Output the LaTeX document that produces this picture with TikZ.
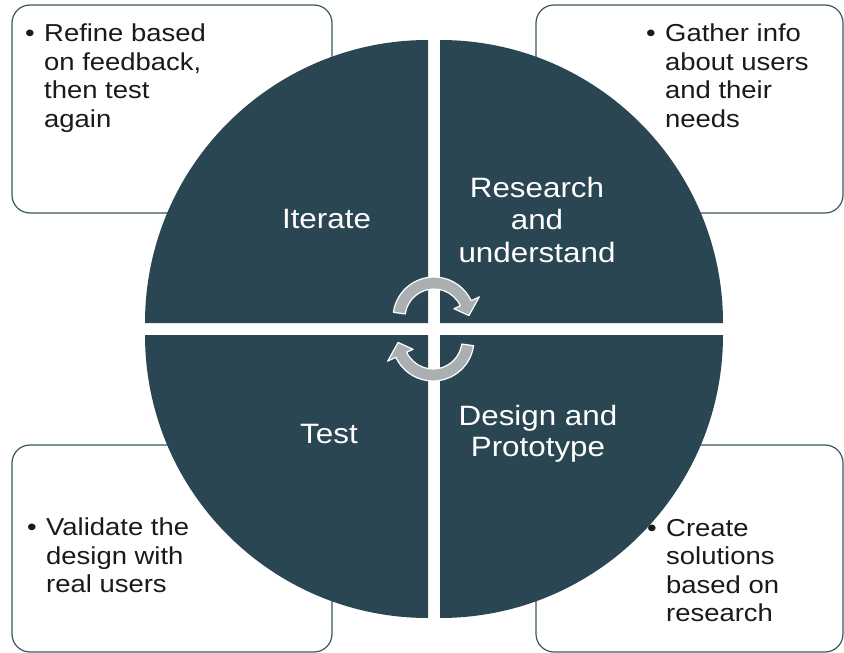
\documentclass[tikz,border=0pt]{standalone}
\usepackage{fontspec}
\setmainfont{Liberation Sans}[FakeStretch=1.12]
\definecolor{slate}{RGB}{42,70,82}
\definecolor{rim}{RGB}{60,86,96}
\definecolor{cyclegray}{RGB}{170,175,178}
\definecolor{ink}{RGB}{26,26,26}

% a bullet with its lines hanging under the first word
\newcommand{\bulletlines}[1]{\makebox[19pt][l]{\textbullet}\parbox[t]{200pt}{\raggedright #1}}

\begin{document}
\begin{tikzpicture}[x=1pt,y=-1pt,
  noteframe/.style={draw=rim, line width=1.2pt, fill=white, rounded corners=18pt},
  quad/.style={fill=slate},
  phase/.style={text=white, inner sep=0pt, align=center, font=\fontsize{28}{32.5}\selectfont},
  note/.style={anchor=north west, inner sep=0pt, text=ink,
               font=\fontsize{24.5}{28.5}\selectfont},
  turn/.style={fill=cyclegray, draw=white, line width=1.2pt, line join=round},
  cyclearrow/.pic={
    \path[turn] (188:41) arc[start angle=188, end angle=335, radius=41]
      -- (335:50) -- (356:35) -- (335:22) -- (335:29)
      arc[start angle=335, end angle=188, radius=29] -- cycle;
  }
]
\useasboundingbox[fill=white] (0,0) rectangle (844,653);

% note frames behind the wheel
\draw[noteframe] (12,5) rectangle (332,213);
\draw[noteframe] (536,5) rectangle (843,213);
\draw[noteframe] (12,445) rectangle (332,652);
\draw[noteframe] (536,445) rectangle (843,652);

% notes
\node[note] (n1) at (25,24) {\bulletlines{Refine based\\on feedback,\\then test\\again}};
\node[note] (n2) at (646,24) {\bulletlines{Gather info\\about users\\and their\\needs}};
\node[note] (n3) at (27,518) {\bulletlines{Validate the\\design with\\real users}};
\node[note] (n4) at (647,519) {\bulletlines{Create\\solutions\\based on\\research}};

% the four quarters of the wheel
\fill[quad] (428,323) -- ++(-283,0) arc[start angle=180, end angle=270, radius=283] -- cycle;
\fill[quad] (440,323) -- ++(0,-283) arc[start angle=270, end angle=360, radius=283] -- cycle;
\fill[quad] (440,335) -- ++(283,0) arc[start angle=0, end angle=90, radius=283] -- cycle;
\fill[quad] (428,335) -- ++(0,283) arc[start angle=90, end angle=180, radius=283] -- cycle;

% phase names
\node[phase, anchor=base] (iter) at (326.5,228) {Iterate};
\node[phase] (res) at (537,219.5) {Research\\and\\understand};
\node[phase, anchor=base] (test) at (329,443) {Test};
\node[phase, font=\fontsize{28}{30.5}\selectfont] (des) at (538,434) {Design and\\Prototype};

% circular arrows in the middle
\pic (upper) at (434,318) {cyclearrow};
\pic[rotate=180] (lower) at (433,340) {cyclearrow};
\end{tikzpicture}
\end{document}
